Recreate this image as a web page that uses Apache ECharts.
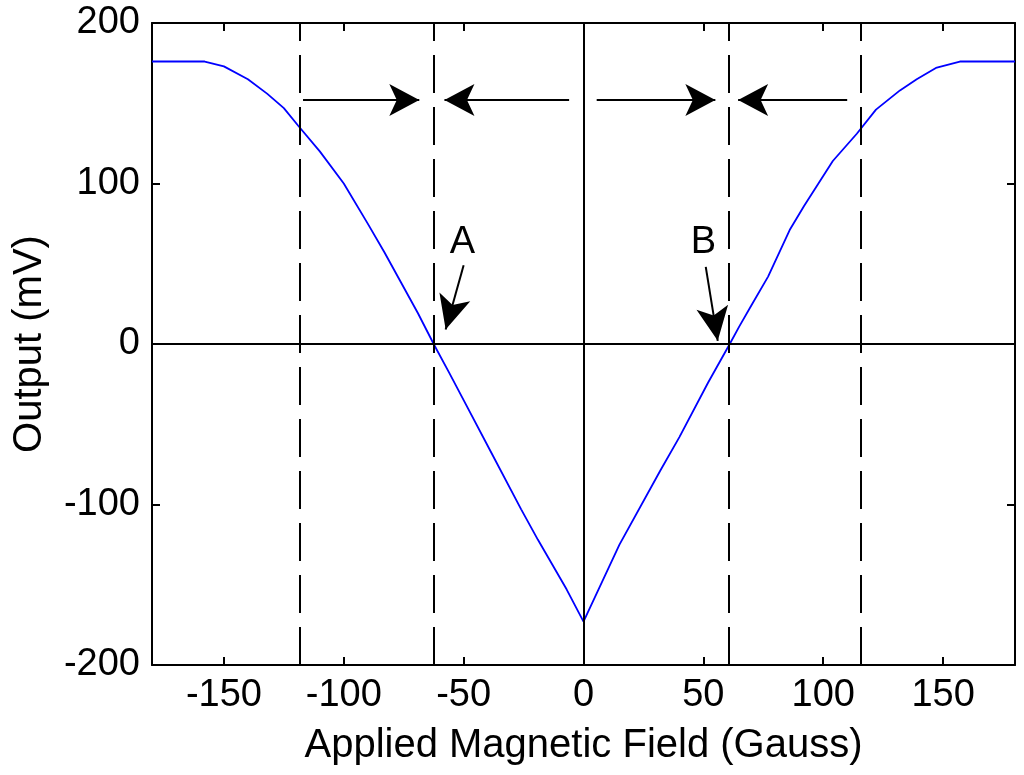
<!DOCTYPE html>
<html>
<head>
	<meta charset="UTF-8">
	<title>Output vs applied field</title>
	<style>
		html, body { margin: 0; padding: 0; background: #fff; }
		#main { width: 1024px; height: 775px; }
	</style>
</head>
<body>
	<div id="main"></div>

	<script type="text/javascript" src="https://cdn.jsdelivr.net/npm/echarts@6/dist/echarts.min.js"></script>
	<script type="text/javascript">

		// sensor response
		var fieldGauss = [-180, -158, -150, -140, -132, -125, -119, -110, -100, -90, -83, -76, -69, -62.5, -56, -50, -38, -26, -19, -7, 0,
			15, 32, 40, 52, 61, 65, 70, 77, 86, 92, 98, 104, 114, 122, 132, 139, 147, 157, 180];
		var outputMv = [176, 176, 173, 165, 156, 147, 136, 120, 100, 75, 57, 38, 19, 0, -18, -35, -69, -103, -122, -153, -173,
			-125, -79, -58, -24, 0, 11, 24, 42, 71, 86, 100, 114, 131, 146, 158, 165, 172, 176, 176];

		var xTicks = [-150, -100, -50, 0, 50, 100, 150];
		var dashedAt = [-118.5, -62.5, 60.5, 115.5];

		// horizontal arrows: [fromX, toX] at height arrowY
		var arrowY = 152;
		var arrowSpans = [[-117, -68.5], [-6, -58], [5.5, 55], [110, 64.5]];

		// labelled arrows A and B
		var pointNames = ['A', 'B'];
		var pointText = [[-50.5, 63], [50, 63]];
		var pointArrowFrom = [[-50, 49], [51, 48]];
		var pointArrowTo = [[-57.5, 9], [56, 2]];

		var chart = echarts.init(document.getElementById('main'));

		var font = 'Liberation Sans, Arial, Helvetica, sans-serif';

		var lines = [];
		lines.push({ xAxis: 0, lineStyle: { type: 'solid' } });
		lines.push({ yAxis: 0, lineStyle: { type: 'solid' } });
		for (var i = 0; i < dashedAt.length; i++) {
			lines.push({ xAxis: dashedAt[i], lineStyle: { type: [38, 14] } });
		}
		for (var i = 0; i < arrowSpans.length; i++) {
			lines.push([
				{ coord: [arrowSpans[i][0], arrowY], symbol: 'none' },
				{ coord: [arrowSpans[i][1], arrowY], symbol: 'arrow', symbolSize: [24, 30], lineStyle: { type: 'solid' } }
			]);
		}
		for (var i = 0; i < pointArrowFrom.length; i++) {
			lines.push([
				{ coord: pointArrowFrom[i], symbol: 'none' },
				{ coord: pointArrowTo[i], symbol: 'arrow', symbolSize: [24, 34], lineStyle: { type: 'solid' } }
			]);
		}

		var letters = [];
		for (var i = 0; i < pointNames.length; i++) {
			letters.push({ value: pointText[i], name: pointNames[i] });
		}

		function boxAxis(pos, min, max, ticks, showLabel) {
			var ax = {
				type: 'value',
				position: pos,
				min: min,
				max: max,
				axisLine: { show: true, onZero: false, lineStyle: { color: '#000', width: 2 } },
				axisTick: { show: true, inside: true, length: 8, lineStyle: { color: '#000', width: 2 } },
				axisLabel: { show: showLabel, color: '#000', fontSize: 38, fontFamily: font, margin: 12 },
				splitLine: { show: false }
			};
			if (ticks) {
				ax.axisTick.customValues = ticks;
				ax.axisLabel.customValues = ticks;
			} else {
				ax.interval = 100;
			}
			return ax;
		}

		var xBottom = boxAxis('bottom', -180, 180, xTicks, true);
		xBottom.name = 'Applied Magnetic Field (Gauss)';
		xBottom.nameLocation = 'middle';
		xBottom.nameGap = 61;
		xBottom.nameTextStyle = { color: '#000', fontSize: 40, fontFamily: font };

		var yLeft = boxAxis('left', -200, 200, null, true);
		yLeft.name = 'Output (mV)';
		yLeft.nameLocation = 'middle';
		yLeft.nameGap = 102;
		yLeft.nameTextStyle = { color: '#000', fontSize: 40, fontFamily: font };

		var option = {
			animation: false,
			backgroundColor: '#fff',
			grid: { left: 152, right: 9, top: 23, bottom: 110 },
			xAxis: [xBottom, boxAxis('top', -180, 180, xTicks, false)],
			yAxis: [yLeft, boxAxis('right', -200, 200, null, false)],
			series: [
				{
					type: 'line',
					data: fieldGauss.map(function (x, i) { return [x, outputMv[i]]; }),
					showSymbol: false,
					lineStyle: { color: '#0000ff', width: 1.8 },
					z: 3,
					silent: true,
					markLine: {
						silent: true,
						symbol: ['none', 'none'],
						label: { show: false },
						lineStyle: { color: '#000', width: 2 },
						emphasis: { disabled: true },
						data: lines
					}
				},
				{
					type: 'scatter',
					data: letters,
					symbolSize: 1,
					itemStyle: { color: 'rgba(0,0,0,0)' },
					silent: true,
					label: {
						show: true,
						position: 'inside',
						formatter: '{b}',
						color: '#000',
						opacity: 1,
						textBorderWidth: 0,
						fontSize: 38,
						fontFamily: font
					}
				}
			]
		};

		chart.setOption(option);

	</script>
</body>
</html>
